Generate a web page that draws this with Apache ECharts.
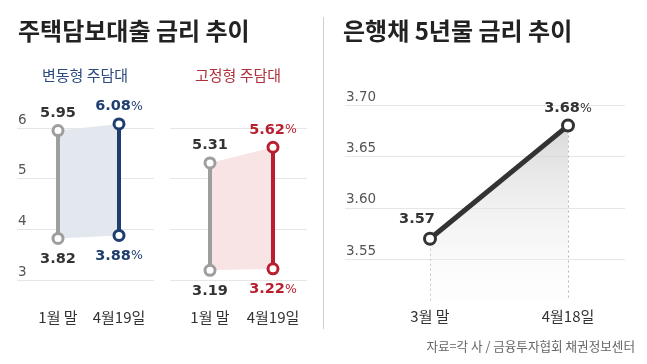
<!DOCTYPE html>
<html><head><meta charset="utf-8">
<script src="https://cdn.jsdelivr.net/npm/echarts@6/dist/echarts.min.js"></script>
<style>html,body{margin:0;padding:0;background:#fff}#c{width:647px;height:364px}</style>
</head><body><div id="c"></div>
<script>
const mortgageCats = ['1월 말', '4월19일'];
const variableHigh = [5.95, 6.08];
const variableLow = [3.82, 3.88];
const fixedHigh = [5.31, 5.62];
const fixedLow = [3.19, 3.22];
const mortgageAxis = { min: 3, max: 6, interval: 1 };
const bondCats = ['3월 말', '4월18일'];
const bondValues = [3.57, 3.68];
const bondAxis = { min: 3.55, max: 3.70, interval: 0.05 };
const bondDataMin = 3.51;

const FF = "'Noto Sans CJK KR','Noto Sans',sans-serif";
const NF = "'DejaVu Sans','Noto Sans',sans-serif";
const GRAY = '#9e9e9e', NAVY = '#1f3e70', RED = '#b8202f';

const chart = echarts.init(document.getElementById('c'), null, { renderer: 'canvas' });

function bgY(gi, showLabels, ax, fmt) {
  return {
    gridIndex: gi, type: 'value', min: ax.min, max: ax.max, interval: ax.interval,
    axisLine: { show: false }, axisTick: { show: false },
    splitLine: { show: true, lineStyle: { color: '#e6e6e6', width: 1 } },
    axisLabel: {
      show: showLabels, inside: true, margin: 1, verticalAlign: 'bottom', lineHeight: 16,
      fontFamily: NF, fontSize: 13.5, color: '#555', formatter: fmt
    }
  };
}
function hiddenY(gi, min, max) {
  return { gridIndex: gi, type: 'value', min: min, max: max, show: false, splitLine: { show: false } };
}
function hiddenX(gi) { return { gridIndex: gi, type: 'value', min: 0, max: 1, show: false }; }
function catX(gi, cats, margin) {
  return {
    gridIndex: gi, type: 'category', data: cats, boundaryGap: false,
    axisLine: { show: false }, axisTick: { show: false }, splitLine: { show: false },
    axisLabel: { fontFamily: FF, fontSize: 15, color: '#333', margin: margin, interval: 0 }
  };
}
function richFor(color) {
  return {
    v: { fontFamily: NF, fontSize: 14.5, fontWeight: 'bold', color: color, lineHeight: 18 },
    p: { fontFamily: NF, fontSize: 12.5, fontWeight: 'normal', color: color, lineHeight: 18 }
  };
}

function bandSeries(xi, high, low, color) {
  return {
    type: 'custom', xAxisIndex: xi, yAxisIndex: xi, silent: true, z: 1, clip: false,
    data: [[0, high[0]]],
    renderItem: function (params, api) {
      const pts = [
        api.coord([0, high[0]]), api.coord([1, high[1]]),
        api.coord([1, low[1]]), api.coord([0, low[0]])
      ];
      return { type: 'polygon', shape: { points: pts }, style: { fill: color } };
    }
  };
}

function colSeries(xi, idx, high, low, color, textColor, pct) {
  const fmtLabel = function (v) {
    const s = v.toFixed(2);
    return pct ? '{v|' + s + '}{p|%}' : '{v|' + s + '}';
  };
  const rich = richFor(textColor);
  return {
    type: 'line', xAxisIndex: xi, yAxisIndex: xi, z: 3, clip: false,
    symbol: 'circle', symbolSize: 10,
    itemStyle: { color: '#fff', borderColor: color, borderWidth: 3 },
    lineStyle: { color: color, width: 4 },
    data: [
      { value: [idx, high[idx]], label: { show: true, position: 'top', distance: 2, formatter: fmtLabel(high[idx]), rich: rich } },
      { value: [idx, low[idx]], label: { show: true, position: 'bottom', distance: 5, formatter: fmtLabel(low[idx]), rich: rich } }
    ],
    emphasis: { disabled: true }, animation: false
  };
}

const option = {
  animation: false,
  backgroundColor: '#fff',
  title: [
    { text: '주택담보대출 금리 추이', left: 18, top: 19, padding: 0,
      textStyle: { fontFamily: FF, fontSize: 24, fontWeight: 'bold', color: '#222', lineHeight: 24 } },
    { text: '은행채 5년물 금리 추이', left: 343, top: 19, padding: 0,
      textStyle: { fontFamily: FF, fontSize: 24, fontWeight: 'bold', color: '#222', lineHeight: 24 } },
    { text: '변동형 주담대', left: 85, top: 67, padding: 0, textAlign: 'center',
      textStyle: { fontFamily: FF, fontSize: 15, fontWeight: 'normal', color: '#2b4a7d', lineHeight: 16 } },
    { text: '고정형 주담대', left: 238, top: 67, padding: 0, textAlign: 'center',
      textStyle: { fontFamily: FF, fontSize: 15, fontWeight: 'normal', color: '#b0303c', lineHeight: 16 } },
    { text: '자료=각 사 / 금융투자협회 채권정보센터', right: 12, top: 339, padding: 0,
      textStyle: { fontFamily: FF, fontSize: 12.6, fontWeight: 'normal', color: '#666', lineHeight: 14 } }
  ],
  graphic: [
    { type: 'line', shape: { x1: 323.5, y1: 17, x2: 323.5, y2: 329 }, style: { stroke: '#cfcfcf', lineWidth: 1 }, silent: true }
  ],
  grid: [
    { left: 17, width: 137, top: 128, height: 152 },
    { left: 58, width: 61, top: 128, height: 152 },
    { left: 170, width: 137, top: 128, height: 152 },
    { left: 210, width: 63, top: 128, height: 152 },
    { left: 345, width: 280, top: 105, height: 154.3 },
    { left: 430, width: 138, top: 105, height: 195.4 }
  ],
  xAxis: [
    hiddenX(0), catX(1, mortgageCats, 30),
    hiddenX(2), catX(3, mortgageCats, 30),
    hiddenX(4), catX(5, bondCats, 8)
  ],
  yAxis: [
    bgY(0, true, mortgageAxis, function (v) { return String(v); }),
    hiddenY(1, mortgageAxis.min, mortgageAxis.max),
    bgY(2, false, mortgageAxis),
    hiddenY(3, mortgageAxis.min, mortgageAxis.max),
    bgY(4, true, bondAxis, function (v) { return v.toFixed(2); }),
    hiddenY(5, bondDataMin, bondAxis.max)
  ],
  series: [
    bandSeries(1, variableHigh, variableLow, '#e3e8ef'),
    colSeries(1, 0, variableHigh, variableLow, GRAY, '#333', false),
    colSeries(1, 1, variableHigh, variableLow, NAVY, NAVY, true),
    bandSeries(3, fixedHigh, fixedLow, '#f8e3e5'),
    colSeries(3, 0, fixedHigh, fixedLow, GRAY, '#333', false),
    colSeries(3, 1, fixedHigh, fixedLow, RED, RED, true),
    {
      type: 'line', xAxisIndex: 5, yAxisIndex: 5, z: 3, clip: false,
      symbol: 'circle', symbolSize: 11,
      itemStyle: { color: '#fff', borderColor: '#333', borderWidth: 3 },
      lineStyle: { color: '#333', width: 5 },
      areaStyle: {
        origin: 'start',
        color: new echarts.graphic.LinearGradient(0, 0, 0, 1, [
          { offset: 0, color: '#c9c9c9' }, { offset: 1, color: 'rgba(250,250,250,0.3)' }
        ])
      },
      data: [
        { value: bondValues[0], label: { show: true, position: 'top', distance: 3, offset: [-13, 0],
          formatter: '{v|' + bondValues[0].toFixed(2) + '}' } },
        { value: bondValues[1], label: { show: true, position: 'top', distance: 1,
          formatter: '{v|' + bondValues[1].toFixed(2) + '}{p|%}' } }
      ],
      label: { rich: richFor('#333') },
      markLine: {
        silent: true, symbol: 'none', z: 2,
        label: { show: false },
        lineStyle: { type: [2, 3], color: '#b5b5b5', width: 1 },
        data: bondValues.map(function (v, i) {
          return [{ coord: [bondCats[i], v] }, { coord: [bondCats[i], bondDataMin] }];
        })
      },
      emphasis: { disabled: true }
    }
  ]
};
chart.setOption(option);
</script>
</body></html>
